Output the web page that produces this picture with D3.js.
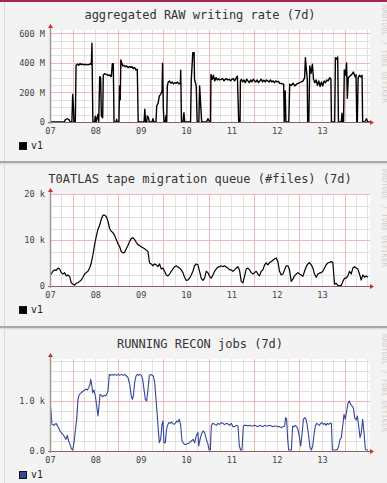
<!DOCTYPE html>
<html>
<head>
<meta charset="utf-8">
<script src="https://cdn.jsdelivr.net/npm/d3@7"></script>
<style>
  html, body { margin: 0; padding: 0; background: #f3f3f3; }
  svg { display: block; }
</style>
</head>
<body>
<div id="chart-container"></div>
<script>
// Time axis: hours from the start of day 07
const dayLabels = ['07', '08', '09', '10', '11', '12', '13'];
const spanHours = 169.4;

// aggregated RAW writing rate, in M
const rawTimes = [0, 7.7, 8.0, 9.2, 10.2, 10.6, 11.6, 12.0, 12.4, 12.7, 13.4, 13.8, 14.5, 15.2, 15.9, 16.6, 17.3, 18.0,
  18.7, 19.4, 20.1, 20.8, 21.5, 21.9, 22.2, 22.7, 23.6, 24.0, 24.4, 25.4, 25.8, 26.3, 26.8, 27.2, 27.9, 28.2, 28.9,
  29.8, 30.7, 31.6, 32.1, 32.5, 33.0, 33.5, 33.9, 34.9, 35.3, 35.6, 36.5, 36.8, 37.2, 37.5, 38.5, 39.2, 39.9, 40.6,
  41.3, 42.0, 42.7, 43.4, 44.1, 44.8, 45.5, 46.2, 46.7, 49.8, 50.2, 50.6, 51.2, 51.5, 52.1, 52.6, 54.0, 54.5, 55.0,
  56.1, 56.5, 57.2, 57.9, 58.6, 59.3, 59.6, 60.0, 60.4, 61.0, 61.4, 61.8, 62.1, 62.6, 63.3, 64.0, 64.7, 65.4, 66.1,
  66.8, 67.5, 68.2, 69.0, 69.2, 69.6, 70.4, 70.9, 71.3, 74.4, 74.8, 75.6, 76.3, 76.5, 77.4, 77.9, 78.8, 79.2, 80.3,
  82.9, 83.6, 84.5, 85.0, 85.2, 85.9, 86.5, 87.2, 87.9, 88.6, 89.3, 90.0, 90.7, 91.4, 92.1, 92.8, 93.5, 94.2, 94.9,
  95.6, 96.3, 97.0, 97.7, 98.4, 99.2, 99.9, 100.6, 100.8, 101.3, 102.0, 102.7, 103.4, 104.1, 104.8, 105.5, 106.2,
  106.9, 107.6, 108.3, 109.0, 109.7, 110.4, 111.1, 111.8, 112.5, 113.2, 113.9, 114.6, 115.3, 116.0, 116.7, 117.4,
  118.1, 118.8, 119.5, 120.2, 120.9, 121.6, 122.6, 123.7, 124.0, 124.5, 124.9, 126.4, 126.9, 127.8, 128.7, 129.6,
  130.5, 131.3, 132.2, 133.1, 134.0, 134.8, 135.2, 135.7, 136.2, 136.4, 137.0, 137.5, 138.2, 138.9, 139.5, 140.2,
  140.9, 141.6, 142.3, 143.0, 143.7, 144.4, 145.1, 145.8, 146.5, 147.2, 148.1, 148.7, 149.0, 150.7, 151.1, 151.8,
  152.3, 152.7, 154.2, 154.6, 155.0, 155.4, 155.8, 156.5, 157.0, 157.4, 157.9, 158.8, 159.7, 160.6, 161.5, 162.0,
  162.4, 162.7, 163.1, 163.8, 164.5, 165.2, 165.5, 166.6, 167.5, 168.2, 169.4];
const rawValues = [0, 0, 14, 22, 14, 0, 0, 187, 108, 0, 0, 383, 392, 383, 395, 388, 392, 386,
  390, 388, 386, 390, 395, 388, 532, 0, 0, 40, 0, 52, 0, 307, 300, 40, 29, 316, 327,
  322, 316, 318, 307, 311, 395, 395, 0, 0, 18, 0, 0, 244, 150, 420, 379, 383, 374, 379,
  368, 374, 370, 374, 361, 368, 352, 356, 0, 0, 86, 0, 0, 41, 29, 0, 0, 22, 0,
  0, 108, 126, 176, 187, 210, 397, 86, 0, 0, 45, 0, 244, 270, 277, 262, 270, 258, 266,
  262, 270, 258, 262, 350, 0, 0, 63, 0, 0, 289, 469, 469, 289, 244, 0, 0, 244, 0,
  0, 22, 0, 0, 322, 289, 316, 278, 300, 284, 293, 284, 289, 293, 278, 289, 293, 284, 289,
  278, 289, 293, 278, 293, 311, 0, 0, 277, 289, 271, 284, 266, 289, 278, 266, 284,
  271, 289, 278, 271, 284, 266, 278, 289, 271, 282, 271, 284, 278, 270, 284, 271,
  278, 266, 278, 271, 275, 262, 260, 255, 0, 210, 0, 0, 255, 248, 262, 244,
  255, 262, 266, 271, 278, 300, 435, 356, 289, 0, 0, 379, 330, 390, 289, 266,
  284, 248, 278, 240, 270, 244, 278, 266, 284, 278, 300, 289, 0, 0, 435, 424,
  440, 0, 0, 60, 0, 0, 352, 318, 399, 160, 300, 311, 320, 338, 305, 320,
  0, 0, 298, 316, 305, 316, 0, 0, 22, 0, 0];

// T0ATLAS tape migration queue, in k files, one sample every queueStep hours
const queueStart = -0.2;
const queueStep = 0.882;
const queueValues = [2.8, 2.6, 3.2, 3.5, 3.4, 3.9, 3.7, 2.9, 2.6, 2.9, 2.2, 2.4, 2.1, 0.7, 0.4, 0.2, 0.6, 0.7, 1.0, 1.3,
  1.9, 2.6, 2.9, 3.2, 3.9, 5.0, 6.8, 9.0, 10.8, 12.3, 13.2, 14.5, 15.4, 15.4, 15.1, 14.1, 12.5, 11.9, 11.6, 11.0,
  10.1, 9.2, 8.6, 7.5, 7.2, 7.3, 8.1, 8.8, 9.7, 10.3, 10.5, 10.1, 9.5, 9.0, 8.8, 8.5, 8.3, 8.1, 7.8, 7.5,
  5.0, 4.8, 4.4, 4.8, 4.6, 4.2, 4.8, 3.7, 3.9, 3.2, 2.4, 2.2, 2.6, 3.2, 3.7, 4.2, 4.4, 4.1, 3.9, 3.5,
  2.9, 1.9, 1.2, 1.3, 1.7, 2.4, 3.2, 4.4, 4.8, 4.6, 3.2, 1.7, 1.2, 1.7, 3.2, 2.9, 2.1, 1.7, 2.4, 3.2,
  3.7, 4.1, 4.2, 4.4, 4.2, 4.4, 4.1, 3.9, 3.5, 3.5, 3.2, 3.5, 3.9, 4.2, 3.4, 1.0, 0.7, 2.1, 3.7, 3.9,
  3.5, 2.9, 2.6, 2.9, 3.2, 2.6, 2.2, 3.2, 3.5, 4.6, 5.0, 4.6, 5.1, 5.3, 5.6, 5.9, 6.1, 5.3, 3.2, 2.4,
  2.6, 3.5, 4.4, 4.4, 3.5, 1.0, 1.5, 2.2, 2.6, 2.9, 2.6, 2.4, 2.1, 3.2, 4.2, 4.8, 5.1, 4.6, 3.9, 2.6,
  1.9, 2.6, 2.8, 2.9, 3.2, 3.9, 4.6, 5.0, 5.1, 5.3, 5.1, 0.4, 0.6, 0.1, 0.1, 0.1, 1.0, 1.7, 1.7, 2.2,
  3.2, 2.6, 3.9, 4.2, 3.9, 3.7, 2.6, 1.3, 2.4, 1.9, 2.2, 1.9];

// RUNNING RECON jobs
const reconTimes = [0.35, 1.06, 2.12, 3.18, 4.24, 5.29, 6.35, 7.41, 8.47, 9.18, 9.88, 10.59, 11.29, 12.0, 12.71,
  13.41, 14.12, 14.82, 15.53, 16.24, 16.94, 17.65, 18.35, 19.06, 19.76, 20.47, 21.18, 21.53, 22.06, 22.59, 23.29,
  24.0, 24.71, 25.41, 25.94, 26.47, 27.18, 27.88, 28.59, 29.29, 30.0, 30.71, 31.41, 32.12, 32.82, 33.53, 34.24,
  35.12, 36.0, 36.88, 37.76, 38.65, 39.53, 40.41, 41.29, 42.18, 43.06, 43.59, 44.12, 44.82, 45.53, 46.24, 46.94,
  47.65, 48.35, 49.06, 49.76, 50.47, 51.18, 51.88, 52.59, 53.29, 54.0, 54.71, 55.41, 56.12, 56.82, 57.18, 57.88,
  58.59, 59.29, 59.82, 60.35, 61.06, 61.59, 62.12, 62.82, 63.53, 64.24, 64.94, 65.65, 66.35, 67.06, 67.76, 68.47,
  69.18, 69.88, 70.59, 71.29, 72.18, 73.06, 73.94, 74.82, 75.71, 76.59, 77.47, 78.35, 78.71, 79.24, 80.12, 81.0,
  81.88, 82.76, 83.65, 84.18, 84.88, 85.41, 86.12, 87.18, 88.06, 88.94, 89.82, 90.71, 91.59, 92.47, 93.35, 94.24,
  95.12, 96.0, 96.88, 97.76, 98.65, 99.53, 100.24, 100.94, 101.65, 102.35, 103.06, 103.94, 104.82, 105.71, 106.59,
  107.47, 108.35, 109.24, 110.12, 111.0, 111.88, 112.76, 113.65, 114.53, 115.41, 116.29, 117.18, 118.06, 118.94,
  119.82, 120.71, 121.59, 122.47, 123.35, 124.24, 124.76, 125.29, 125.82, 126.35, 127.06, 127.76, 128.47, 129.18,
  129.88, 130.59, 131.29, 132.0, 132.71, 133.41, 134.12, 134.82, 135.53, 136.24, 136.94, 137.65, 138.35, 139.06,
  139.76, 140.47, 141.18, 141.88, 142.59, 143.29, 144.0, 144.71, 145.41, 146.12, 146.82, 147.53, 148.24, 148.94,
  149.47, 150.0, 150.71, 151.41, 152.12, 152.82, 153.53, 154.24, 154.94, 155.65, 156.35, 157.06, 157.76, 158.47,
  159.18, 159.88, 160.59, 161.29, 162.0, 162.71, 163.41, 164.12, 164.82, 165.53, 166.24, 166.94, 167.65, 168.35];
const reconValues = [867, 533, 513, 553, 487, 400, 353, 300, 233, 313, 200, 133, 47, 20, 167,
  400, 633, 1033, 1133, 1153, 1180, 1200, 1220, 1233, 1220, 1267, 1333, 1433, 1333, 1167, 1220,
  1100, 900, 700, 900, 1133, 1113, 1087, 1113, 1100, 1133, 1200, 1533, 1513, 1533, 1513, 1533,
  1513, 1533, 1513, 1533, 1513, 1533, 1500, 1467, 1333, 1100, 1033, 1100, 1367, 1500, 1533, 1513,
  1533, 1513, 1433, 1233, 1033, 1000, 1233, 1513, 1533, 1513, 1500, 1367, 1033, 700, 500, 167,
  233, 533, 600, 167, 167, 400, 500, 567, 553, 580, 553, 533, 553, 600, 580, 633,
  513, 200, 153, 133, 133, 153, 167, 200, 233, 167, 313, 367, 100, 200, 333, 400,
  367, 233, 133, 20, 20, 500, 553, 533, 513, 553, 533, 567, 553, 527, 553, 540,
  513, 553, 487, 487, 513, 500, 100, 20, 20, 500, 513, 513, 500, 513, 500,
  500, 513, 500, 487, 513, 500, 487, 513, 500, 500, 513, 500, 487, 500,
  500, 487, 487, 467, 487, 500, 667, 633, 233, 20, 20, 20, 500, 487,
  513, 487, 433, 287, 100, 333, 633, 667, 633, 500, 300, 67, 20, 100,
  333, 500, 553, 533, 513, 553, 567, 533, 553, 513, 553, 533, 553, 553,
  20, 20, 20, 20, 33, 100, 233, 267, 500, 733, 633, 800, 953, 1000,
  933, 900, 867, 667, 620, 700, 500, 267, 367, 633, 367, 33, 20, 20];

// Per-graph texts and value axes
const titles = ['aggregated RAW writing rate (7d)', 'T0ATLAS tape migration queue (#files) (7d)', 'RUNNING RECON jobs (7d)'];
const rawTicks = [0, 200, 400, 600];
const rawTickLabels = ['0', '200 M', '400 M', '600 M'];
const queueTicks = [0, 10, 20];
const queueTickLabels = ['0', '10 k', '20 k'];
const reconTicks = [0, 1000];
const reconTickLabels = ['0.0', '1.0 k'];
const legendLabel = 'v1';

const width = 387;
const height = 483;
const plotLeft = 50;
const plotRight = 370;
const plotTop = 30;
const plotBottom = 122;
const monoFont = '"DejaVu Sans Mono", monospace';

const zipSeries = (ts, vs) => ts.map((t, i) => [t, vs[i]]);

const panels = [
  {offset: 0, title: titles[0], yMax: 622, minor: 50, major: 200, ticks: rawTicks, tickLabels: rawTickLabels,
    color: '#000000', lineWidth: 1.4, data: zipSeries(rawTimes, rawValues)},
  {offset: 164, title: titles[1], yMax: 20, minor: 2.5, major: 10, ticks: queueTicks, tickLabels: queueTickLabels,
    color: '#000000', lineWidth: 1.2, data: queueValues.map((v, i) => [queueStart + i * queueStep, v])},
  {offset: 329, title: titles[2], yMax: 1840, minor: 200, major: 1000, ticks: reconTicks, tickLabels: reconTickLabels,
    color: '#34469a', lineWidth: 1.1, data: zipSeries(reconTimes, reconValues)}
];

const x = d3.scaleLinear().domain([0, spanHours]).range([plotLeft, plotRight]);

const svg = d3.select('#chart-container')
  .append('svg')
  .attr('width', width)
  .attr('height', height);

svg.append('rect').attr('width', width).attr('height', height).attr('fill', '#f3f3f3');

function drawPanel(p, idx) {
  const g = svg.append('g').attr('transform', 'translate(0,' + p.offset + ')');
  const y = d3.scaleLinear().domain([0, p.yMax]).range([plotBottom, plotTop]);

  // Title
  g.append('text')
    .attr('x', 200).attr('y', 15)
    .attr('dy', '0.35em')
    .attr('text-anchor', 'middle')
    .style('font-family', monoFont)
    .style('font-size', '12px')
    .style('fill', '#333')
    .text(p.title);

  // Canvas
  g.append('rect')
    .attr('x', plotLeft).attr('y', plotTop)
    .attr('width', plotRight - plotLeft).attr('height', plotBottom - plotTop)
    .attr('fill', '#ffffff');

  // Minor grid
  const hMinor = d3.range(p.minor, p.yMax, p.minor).filter(v => Math.abs(v % p.major) > 1e-6);
  const vMinor = d3.range(6, spanHours, 6).filter(h => h % 24 !== 12);
  g.append('g').selectAll('line').data(hMinor).join('line')
    .attr('x1', plotLeft).attr('x2', plotRight)
    .attr('y1', d => Math.round(y(d)) + 0.5).attr('y2', d => Math.round(y(d)) + 0.5)
    .attr('stroke', '#e1e1e1');
  g.append('g').selectAll('line').data(vMinor).join('line')
    .attr('x1', d => Math.round(x(d)) + 0.5).attr('x2', d => Math.round(x(d)) + 0.5)
    .attr('y1', plotTop).attr('y2', plotBottom)
    .attr('stroke', '#e1e1e1');

  // Major grid
  const hMajor = d3.range(p.major, p.yMax + 1e-6, p.major);
  const vMajor = d3.range(12, spanHours, 24);
  g.append('g').selectAll('line').data(hMajor).join('line')
    .attr('x1', plotLeft).attr('x2', plotRight)
    .attr('y1', d => Math.round(y(d)) + 0.5).attr('y2', d => Math.round(y(d)) + 0.5)
    .attr('stroke', '#f3b9b9');
  g.append('g').selectAll('line').data(vMajor).join('line')
    .attr('x1', d => Math.round(x(d)) + 0.5).attr('x2', d => Math.round(x(d)) + 0.5)
    .attr('y1', plotTop).attr('y2', plotBottom)
    .attr('stroke', '#f3b9b9');

  // Series line
  const clipId = 'clip' + idx;
  g.append('clipPath').attr('id', clipId)
    .append('rect')
    .attr('x', plotLeft).attr('y', plotTop - 2)
    .attr('width', plotRight - plotLeft).attr('height', plotBottom - plotTop + 2);

  const line = d3.line().x(d => x(d[0])).y(d => y(d[1]));
  g.append('path')
    .datum(p.data)
    .attr('clip-path', 'url(#' + clipId + ')')
    .attr('fill', 'none')
    .attr('stroke', p.color)
    .attr('stroke-width', p.lineWidth)
    .attr('stroke-linejoin', 'round')
    .attr('d', line);

  // Axes lines and arrows
  g.append('line')
    .attr('x1', plotLeft - 2).attr('x2', plotRight)
    .attr('y1', plotBottom + 0.5).attr('y2', plotBottom + 0.5)
    .attr('stroke', '#8a6464');
  g.append('line')
    .attr('x1', plotLeft + 0.5).attr('x2', plotLeft + 0.5)
    .attr('y1', plotTop - 2).attr('y2', plotBottom + 2)
    .attr('stroke', '#9a9a9a')
    .attr('stroke-width', 1.5);
  g.append('path')
    .attr('d', 'M' + (plotLeft - 2) + ',' + (plotTop - 2) + 'L' + (plotLeft + 0.5) + ',' + (plotTop - 6) + 'L' + (plotLeft + 3) + ',' + (plotTop - 2) + 'Z')
    .attr('fill', '#c83232');
  g.append('path')
    .attr('d', 'M' + plotRight + ',' + (plotBottom - 2) + 'L' + (plotRight + 4) + ',' + (plotBottom + 0.5) + 'L' + plotRight + ',' + (plotBottom + 3) + 'Z')
    .attr('fill', '#c83232');

  // Value axis labels
  const yAxis = d3.axisLeft(y)
    .tickValues(p.ticks)
    .tickFormat((d, i) => p.tickLabels[i])
    .tickSize(0)
    .tickPadding(5);
  const gY = g.append('g')
    .attr('transform', 'translate(' + plotLeft + ',0)')
    .call(yAxis);
  gY.select('.domain').remove();
  gY.selectAll('text')
    .style('font-family', monoFont)
    .style('font-size', '8.6px')
    .style('fill', '#444');

  // Day labels
  const xAxis = d3.axisBottom(x)
    .tickValues(dayLabels.map((d, i) => i * 24))
    .tickFormat((d, i) => dayLabels[i])
    .tickSize(0)
    .tickPadding(6);
  const gX = g.append('g')
    .attr('transform', 'translate(0,' + plotBottom + ')')
    .call(xAxis);
  gX.select('.domain').remove();
  gX.selectAll('text')
    .style('font-family', monoFont)
    .style('font-size', '8.6px')
    .style('fill', '#444');

  // Legend
  g.append('rect')
    .attr('x', 19.5).attr('y', 142.5)
    .attr('width', 7).attr('height', 7)
    .attr('fill', p.color)
    .attr('stroke', '#111');
  g.append('text')
    .attr('x', 31).attr('y', 146)
    .attr('dy', '0.35em')
    .style('font-family', monoFont)
    .style('font-size', '9.8px')
    .style('fill', '#222')
    .text(legendLabel);

  // Watermark
  g.append('text')
    .attr('transform', 'translate(381.5,' + 5 + ') rotate(90)')
    .style('font-family', monoFont)
    .style('font-size', '7.4px')
    .style('fill', '#d0d0d0')
    .text('RRDTOOL / TOBI OETIKER');
}

panels.forEach((p, i) => drawPanel(p, i));

// Page frame: top bar, left rule and separators between graphs
svg.append('rect').attr('x', 0).attr('y', 0).attr('width', width).attr('height', 2).attr('fill', '#a3284f');
svg.append('line')
  .attr('x1', 4.5).attr('x2', 4.5).attr('y1', 2).attr('y2', height)
  .attr('stroke', '#dadada');
[161, 326].forEach(sy => {
  svg.append('rect').attr('x', 0).attr('y', sy).attr('width', width).attr('height', 2).attr('fill', '#a9a9a9');
  svg.append('rect').attr('x', 0).attr('y', sy + 2).attr('width', width).attr('height', 1.5).attr('fill', '#dddddd');
});
</script>
</body>
</html>
